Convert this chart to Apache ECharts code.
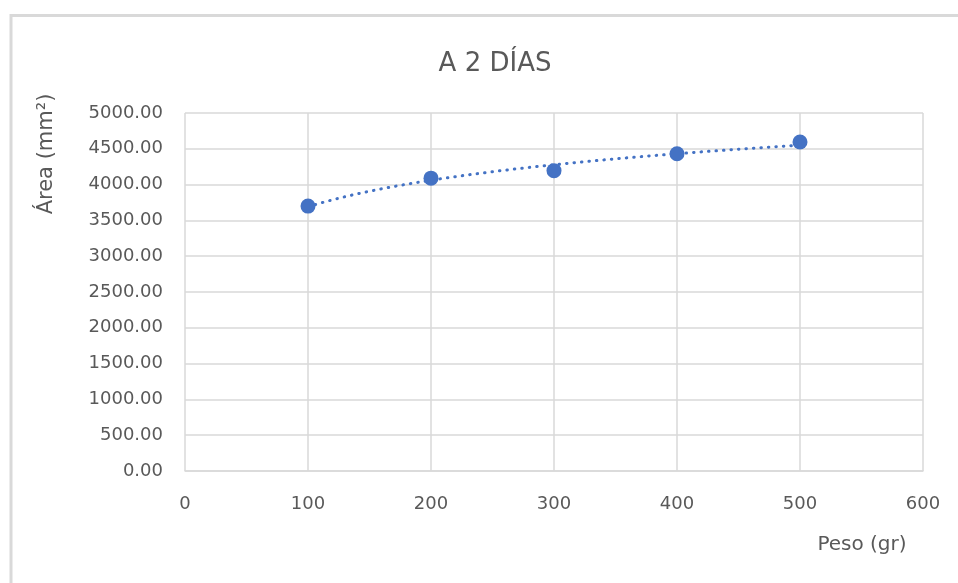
<!DOCTYPE html>
<html>
<head>
<meta charset="utf-8">
<script src="https://cdn.jsdelivr.net/npm/echarts@6/dist/echarts.min.js"></script>
<style>
  html, body { margin: 0; padding: 0; background: #ffffff; overflow: hidden; }
  #chart { width: 958px; height: 583px; }
</style>
</head>
<body>
<div id="chart"></div>
<script>
// Peso (gr) vs. Área (mm²) measured after two days
const pesos = [100, 200, 300, 400, 500];
const areas = [3700, 4090, 4195, 4430, 4595];

const xTicks = [0, 100, 200, 300, 400, 500, 600];
const yTicks = [0, 500, 1000, 1500, 2000, 2500, 3000, 3500, 4000, 4500, 5000];

const titleText = 'A 2 DÍAS';
const xName = 'Peso (gr)';
const yName = 'Área (mm²)';

// Logarithmic least-squares trendline (y = a·ln(x) + b) fitted to the measurements
function logFit(xs, ys) {
  const lx = xs.map(Math.log);
  const n = xs.length;
  const mx = lx.reduce((s, v) => s + v, 0) / n;
  const my = ys.reduce((s, v) => s + v, 0) / n;
  let sxy = 0, sxx = 0;
  for (let i = 0; i < n; i++) {
    sxy += (lx[i] - mx) * (ys[i] - my);
    sxx += (lx[i] - mx) * (lx[i] - mx);
  }
  const a = sxy / sxx;
  return { a: a, b: my - a * mx };
}
const fit = logFit(pesos, areas);
const trend = [];
for (let x = pesos[0]; x <= pesos[pesos.length - 1]; x += 5) {
  trend.push([x, fit.a * Math.log(x) + fit.b]);
}

const FONT = 'DejaVu Sans';
const TXT = '#595959';
const GRID = '#d9d9d9';
const BLUE = '#4472C4';

const chart = echarts.init(document.getElementById('chart'), null, { renderer: 'canvas' });
chart.setOption({
  backgroundColor: '#ffffff',
  animation: false,
  title: {
    text: titleText,
    left: 490,
    top: 46,
    textAlign: 'center',
    textStyle: { fontFamily: FONT, fontSize: 26, fontWeight: 'normal', color: TXT }
  },
  grid: { left: 185, right: 35, top: 113, bottom: 112, containLabel: false },
  xAxis: {
    type: 'value',
    min: xTicks[0],
    max: xTicks[xTicks.length - 1],
    interval: 100,
    axisLine: { show: true, lineStyle: { color: GRID, width: 1.5 } },
    axisTick: { show: false },
    splitLine: { show: true, lineStyle: { color: GRID, width: 1.5 } },
    axisLabel: { margin: 24, fontFamily: FONT, fontSize: 18, color: TXT }
  },
  yAxis: {
    type: 'value',
    min: yTicks[0],
    max: yTicks[yTicks.length - 1],
    interval: 500,
    axisLine: { show: false },
    axisTick: { show: false },
    splitLine: { show: true, lineStyle: { color: GRID, width: 1.5 } },
    axisLabel: {
      margin: 22, fontFamily: FONT, fontSize: 18, color: TXT,
      formatter: v => v.toFixed(2)
    }
  },
  graphic: [
    {
      // outer chart-area frame (left and top edges)
      type: 'polyline',
      silent: true,
      shape: { points: [[11, 700], [11, 15.5], [1100, 15.5]] },
      style: { fill: 'none', stroke: GRID, lineWidth: 3 }
    },
    {
      type: 'text',
      x: 47, y: 154, rotation: Math.PI / 2,
      style: {
        text: yName, fontFamily: FONT, fontSize: 21, fill: TXT,
        textAlign: 'center', textVerticalAlign: 'middle'
      }
    },
    {
      type: 'text',
      x: 862, y: 545,
      style: {
        text: xName, fontFamily: FONT, fontSize: 20, fill: TXT,
        textAlign: 'center', textVerticalAlign: 'middle'
      }
    }
  ],
  series: [
    {
      type: 'line',
      data: trend,
      showSymbol: false,
      smooth: false,
      silent: true,
      z: 2,
      lineStyle: { color: BLUE, width: 3, type: [0.5, 7], cap: 'round' }
    },
    {
      type: 'scatter',
      data: pesos.map((p, i) => [p, areas[i]]),
      symbol: 'circle',
      symbolSize: 15,
      z: 3,
      itemStyle: { color: BLUE, opacity: 1 }
    }
  ]
});
</script>
</body>
</html>
